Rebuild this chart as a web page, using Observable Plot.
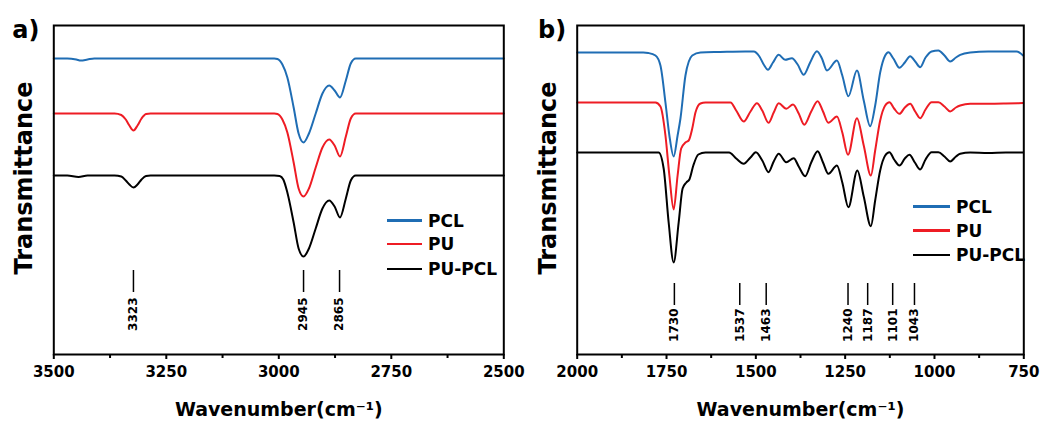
<!DOCTYPE html>
<html><head><meta charset="utf-8">
<script src="https://cdn.jsdelivr.net/npm/d3@7"></script>
<script src="https://cdn.jsdelivr.net/npm/@observablehq/plot@0.6"></script>
<style>
body{margin:0;background:#fff;font-family:"DejaVu Sans",sans-serif;}
#wrap{position:relative;width:1046px;height:423px;display:flex;background:#fff;}
#wrap svg{overflow:visible;}
.row{position:absolute;height:20px;display:flex;align-items:center;font-weight:bold;font-size:17px;color:#000;white-space:nowrap;}
.row span.sw{display:inline-block;height:2.5px;margin-right:6px;}
</style></head><body><div id="wrap"></div>
<script>
// ---- data (wavenumber, transmittance in arbitrary units) ----
const seriesNames = ["PCL", "PU", "PU-PCL"];
const seriesColors = ["#1f6db4", "#ee1c24", "#000000"];

const ticksA = [3500, 3250, 3000, 2750, 2500];
const minorA = [3375, 3125, 2875, 2625];
const ticksB = [2000, 1750, 1500, 1250, 1000, 750];
const minorB = [1875, 1625, 1375, 1125, 875];

const peaksA = [3323, 2945, 2865];
const peakLabelsB = [1730, 1537, 1463, 1240, 1187, 1101, 1043];
const peakPosB = [1728, 1545, 1471, 1242, 1187, 1117, 1056];

// panel a) 3500-2500 cm-1
const pclA = [[3500,296],[3470,296],[3450,295],[3440,294],[3425,295],[3410,296],[3200,296],[3010,296],[3003,295.5],[2992,290],[2981,277],[2967,247],[2956,221],[2945,212],[2933,221],[2918,241],[2903,261],[2888,269],[2876,264],[2864,257],[2851,274],[2840,291],[2829,296],[2815,296],[2700,296],[2500,296]];
const puA = [[3500,241],[3400,241],[3365,241],[3350,239.5],[3340,235],[3332,229],[3323,224],[3314,229],[3305,236],[3295,240.5],[3285,241],[3100,241],[3010,241],[3003,240.5],[2992,235],[2981,222],[2967,192],[2956,166],[2945,158],[2933,166],[2918,187],[2903,207],[2888,215],[2876,209],[2864,198],[2851,218],[2840,236],[2829,241],[2815,241],[2500,241]];
const pupclA = [[3500,179],[3470,179],[3445,177.5],[3425,179],[3365,179],[3350,178],[3340,174],[3332,170],[3323,167],[3314,170],[3305,175],[3295,178.5],[3285,179],[3010,179],[2998,178.5],[2990,175],[2981,162],[2967,132],[2956,106],[2945,98],[2933,106],[2918,126],[2903,146],[2888,154],[2876,148],[2864,137],[2851,156],[2840,174],[2829,179],[2500,179]];

// panel b) 2000-750 cm-1
const pclB = [[2000,302],[1900,302],[1815,302],[1801,301.5],[1781,299],[1767,289],[1753,252],[1742,219],[1730,198],[1719,219],[1711,236],[1697,279],[1678,299],[1655,302],[1600,302.5],[1530,303],[1506,303],[1490,298],[1478,290],[1466,284.7],[1452,292],[1436,299.7],[1418,294.7],[1399,296.3],[1383,290],[1366,279.7],[1348,292],[1329,303.3],[1315,296],[1301,284],[1273,294],[1258,279],[1241,258.3],[1217,284],[1198,254],[1180,228.3],[1166,249],[1152,282],[1138,299],[1129,302.3],[1115,296],[1098,286.7],[1083,292],[1068,298.3],[1054,293],[1040,287.3],[1025,297],[1008,303],[989,304],[972,299],[956,293],[940,297],[928,299.7],[900,302],[850,303],[800,303],[770,303],[752,299]];
const puB = [[2000,252],[1900,252],[1800,252],[1781,252],[1767,248],[1753,219],[1742,179],[1730,145],[1719,179],[1709,206],[1697,212],[1688,214],[1678,226],[1669,242],[1655,251],[1641,252],[1600,252],[1571,252],[1555,244],[1534,233],[1515,243],[1497,251.3],[1482,244],[1464.5,231.7],[1450,242],[1436,251.3],[1415,245.7],[1396,250],[1380,241],[1364.5,229.7],[1345,243],[1327,253.3],[1312,243],[1297,231.7],[1273,238],[1258,222],[1242,199.7],[1217,236.3],[1198,209],[1178,179],[1166,204],[1152,234],[1138,249],[1126,252.3],[1113,246],[1098,240.7],[1083,247],[1068,250.7],[1054,243],[1040,236.3],[1025,245],[1008,252.3],[989,252.3],[972,248],[956,243],[940,247],[928,249],[900,250.7],[850,250.7],[800,251],[752,251.5]];
const pupclB = [[2000,202],[1900,202],[1800,202],[1772,202],[1758,186],[1744,132],[1730,92],[1716,132],[1705,166],[1694.5,172],[1686,175],[1675,189],[1661,200],[1641,202],[1600,202],[1575,202],[1555,196],[1534,190.7],[1515,197],[1500,202.3],[1482,194],[1464.5,182.3],[1450,193],[1436,200.7],[1415,192.3],[1394,196.3],[1380,188],[1362,178.3],[1345,192],[1327,203.3],[1312,192],[1297,180.7],[1273,189],[1258,172],[1241,147.3],[1216,184],[1198,158],[1178,128.3],[1166,154],[1152,184],[1138,199],[1126,202.3],[1113,195],[1098,189],[1083,196],[1070,199.7],[1055,192],[1040,185],[1025,195],[1008,202.3],[989,202.3],[972,198],[956,193],[940,198],[928,200.7],[900,202],[850,201.5],[800,202],[752,202]];

// ---- build ----
function rowsOf(list) {
  const out = [];
  list.forEach((pts, i) => pts.forEach(([wn, t]) => out.push({wn, t, s: seriesNames[i]})));
  return out;
}

function panel({data, domain, ticks, minor, peakPos, peakLabels, letter, width, mL, mR, ruleY1, ruleY2, textY, letterDx}) {
  return Plot.plot({
    width, height: 423,
    marginLeft: mL, marginRight: mR, marginTop: 25, marginBottom: 69,
    x: {domain},
    y: {domain: [0, 329], axis: null},
    color: {domain: seriesNames, range: seriesColors},
    style: {fontFamily: "DejaVu Sans", fontWeight: "bold", fontSize: "15px", background: "transparent", color: "black", overflow: "visible"},
    marks: [
      Plot.line(data, {x: "wn", y: "t", z: "s", stroke: "s", curve: "monotone-x", strokeWidth: 2}),
      Plot.frame({stroke: "black", strokeWidth: 2}),
      Plot.axisX(ticks, {tickSize: 5, tickPadding: 7, strokeWidth: 2, tickFormat: d => String(d), label: null, fontSize: 15}),
      Plot.axisX(minor, {tickSize: 4, strokeWidth: 2, tickFormat: () => "", label: null}),
      Plot.ruleX(peakPos, {x: d => d, y1: ruleY1, y2: ruleY2, strokeWidth: 1.5, stroke: "black"}),
      Plot.text(peakPos, {x: d => d, y: textY, text: (d, i) => String(peakLabels[i]), rotate: -90, textAnchor: "end", lineAnchor: "middle", fontSize: 12, fill: "black"}),
      Plot.text(["Transmittance"], {frameAnchor: "left", rotate: -90, textAnchor: "middle", lineAnchor: "middle", dx: -29, dy: -12, fontSize: 24, fill: "black"}),
      Plot.text(["Wavenumber(cm\u207B\u00B9)"], {frameAnchor: "bottom", textAnchor: "middle", lineAnchor: "middle", dy: 55, fontSize: 19, fill: "black"}),
      Plot.text([letter], {frameAnchor: "top-left", textAnchor: "middle", lineAnchor: "middle", dx: letterDx, dy: 5, fontSize: 24, fill: "black"})
    ]
  });
}

const wrap = document.getElementById("wrap");
wrap.append(panel({
  data: rowsOf([pclA, puA, pupclA]), domain: [3500, 2500], ticks: ticksA, minor: minorA,
  peakPos: peaksA, peakLabels: peaksA, letter: "a)", width: 520, mL: 53.3, mR: 16.7,
  ruleY1: 84, ruleY2: 62, textY: 57, letterDx: -28
}));
wrap.append(panel({
  data: rowsOf([pclB, puB, pupclB]), domain: [2000, 750], ticks: ticksB, minor: minorB,
  peakPos: peakPosB, peakLabels: peakLabelsB, letter: "b)", width: 526, mL: 56.7, mR: 22.7,
  ruleY1: 71, ruleY2: 49, textY: 46, letterDx: -25
}));

// legends
function legend(x, ys, swW) {
  seriesNames.forEach((name, i) => {
    const r = document.createElement("div");
    r.className = "row";
    r.style.left = x + "px";
    r.style.top = (ys[i] - 10) + "px";
    const sw = document.createElement("span");
    sw.className = "sw";
    sw.style.width = swW + "px";
    sw.style.background = seriesColors[i];
    r.append(sw, document.createTextNode(name));
    wrap.append(r);
  });
}
legend(387, [220.7, 244, 269], 35);
legend(913, [206.7, 230.7, 255], 37);
</script></body></html>
